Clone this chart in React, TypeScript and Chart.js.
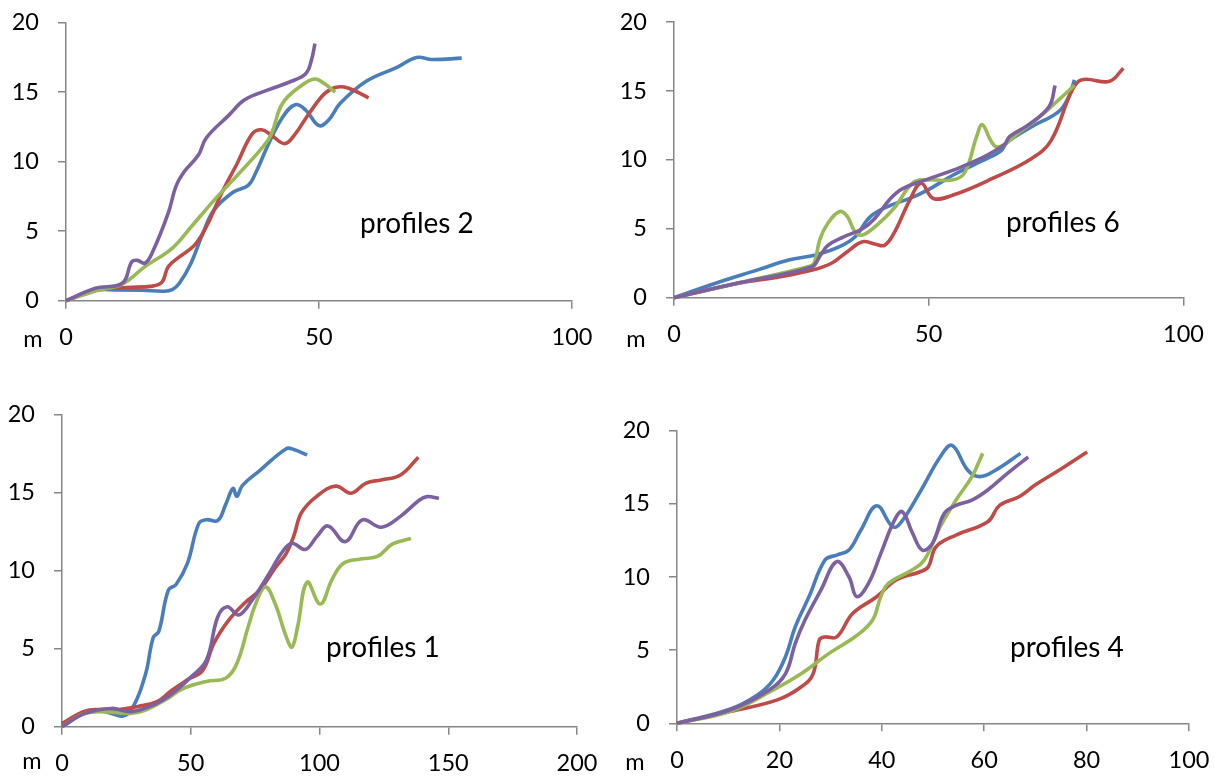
import React, { useEffect, useRef } from "react";
import { Chart, registerables } from "chart.js";

Chart.register(...registerables);

type Pt = [number, number];

// ---------- tick labels ----------
const yTicks = [0, 5, 10, 15, 20];
const xTicksP2 = [0, 50, 100];
const xTicksP6 = [0, 50, 100];
const xTicksP1 = [0, 50, 100, 150, 200];
const xTicksP4 = [0, 20, 40, 60, 80, 100];

// ---------- profiles 2 ----------
const p2Blue: Pt[] = [[0,0],[5.8,0.75],[10,0.78],[15,0.75],[19.4,0.68],[21,0.8],[22.4,1.25],[24.7,2.7],[27,4.8],[29.2,6.5],[33,7.8],[36,8.3],[37.5,9.2],[39.8,11.1],[42.8,13.2],[45.3,14.1],[47.4,13.7],[50,12.6],[51.9,13.0],[54.2,14.2],[59.4,15.8],[65.5,16.8],[69.3,17.5],[72.3,17.35],[78.2,17.45]];
const p2Red: Pt[] = [[0,0],[5.8,0.75],[11.9,0.95],[17.1,1.05],[19,1.35],[20.2,2.45],[22.4,3.15],[25.4,4.0],[27.7,5.3],[30.7,7.7],[33.8,9.85],[36.8,12.0],[38.7,12.3],[40.6,11.9],[43.2,11.3],[45.1,11.9],[48.1,13.5],[51.1,14.9],[53.4,15.35],[55.7,15.3],[59.8,14.6]];
const p2Green: Pt[] = [[0,0],[5.8,0.7],[11.1,1.2],[15.6,2.45],[20.9,3.75],[24.7,5.3],[29.2,7.2],[33.8,9.0],[39,11.1],[40.6,12.0],[42.8,14.2],[46.6,15.5],[49.2,15.95],[51.1,15.6],[53.2,15.0]];
const p2Purple: Pt[] = [[0,0],[5.8,0.9],[11.1,1.25],[13,2.8],[14.1,2.9],[15.6,2.7],[17.1,3.5],[20.2,6.3],[21.7,8.2],[23.2,9.2],[26.2,10.5],[27.7,11.7],[32.2,13.35],[35.3,14.45],[39.8,15.15],[44.3,15.75],[47.4,16.35],[48.5,17.3],[49.2,18.5]];

// ---------- profiles 6 ----------
const p6Blue: Pt[] = [[0,0],[8.6,1.1],[16.3,2.0],[22.5,2.73],[27.8,3.1],[32.5,3.7],[35.5,4.4],[38.6,5.9],[42.5,6.7],[46.3,7.2],[50.2,7.9],[54.8,8.9],[59.4,9.75],[64,10.6],[65.5,11.3],[70.2,12.4],[75.5,13.5],[77.5,14.6],[78.6,15.8]];
const p6Red: Pt[] = [[0,0],[12.5,1.04],[20.9,1.52],[27.1,2.0],[30.9,2.5],[34,3.34],[37,4.06],[39.4,3.9],[41.3,3.8],[43.2,4.7],[46.3,7.1],[48.5,8.3],[50.9,7.2],[54.8,7.45],[62.5,8.65],[70.2,10.1],[74,11.4],[77.8,14.8],[79.4,15.7],[80.9,15.85],[85.5,15.7],[88.2,16.65]];
const p6Green: Pt[] = [[0,0],[13,1.1],[26.3,2.25],[27.5,2.5],[28.6,4.2],[30.2,5.4],[32.5,6.25],[34,5.9],[35.5,4.8],[37,4.55],[40.2,5.4],[43.2,6.5],[47.1,8.4],[50.2,8.55],[54.8,8.55],[57.1,9.1],[59.4,11.7],[60.5,12.55],[62.1,11.45],[63.2,10.95],[64.8,11.1],[67.1,11.8],[71.7,13.1],[75.5,14.35],[78.6,15.4]];
const p6Purple: Pt[] = [[0,0],[13,1.1],[27.1,2.25],[28.6,3.0],[30.2,3.8],[33.2,4.4],[37,5.0],[39.4,5.75],[42.5,7.2],[44.8,7.9],[49.4,8.55],[54.8,9.25],[60.2,10.1],[64.8,11.1],[65.9,11.7],[69.4,12.5],[73.6,13.85],[74.8,15.4]];

// ---------- profiles 1 ----------
const p1Blue: Pt[] = [[0,0.1],[5.9,0.75],[13.3,1.07],[19.2,0.85],[23.6,0.68],[27.3,1.17],[32.5,3.4],[35.4,5.7],[37.6,6.1],[41.3,8.75],[44.3,9.1],[48.7,10.45],[53.1,13.0],[56.1,13.25],[60.5,13.2],[63.5,14.2],[66.4,15.25],[67.9,14.75],[70.1,15.45],[76.8,16.4],[87.1,17.8],[90,17.75],[95.2,17.4]];
const p1Red: Pt[] = [[0,0.2],[8.9,1.0],[14.8,1.1],[22.1,1.1],[29.5,1.3],[36.9,1.6],[42.8,2.35],[48.7,3.0],[54.6,3.6],[59,5.35],[64.9,6.85],[70.8,7.9],[76.8,8.75],[82.7,10.15],[87.1,11.1],[90,12.2],[93,13.7],[98.9,14.75],[106.3,15.4],[112.2,14.95],[118.1,15.6],[124,15.8],[131.3,16.1],[138.4,17.25]];
const p1Green: Pt[] = [[0,0],[8.9,0.85],[17.7,0.95],[26.6,0.85],[32.5,1.07],[39.9,1.7],[47.2,2.45],[56.1,2.9],[63.5,3.1],[67.9,4.05],[72.3,6.4],[75.3,7.9],[79,8.95],[82.7,7.9],[87.1,5.75],[89.3,5.1],[91.5,6.4],[95.2,9.25],[100.3,7.85],[104.8,9.4],[109.2,10.45],[116.6,10.75],[122.5,10.9],[128.4,11.7],[135.5,12.05]];
const p1Purple: Pt[] = [[0,0],[8.9,0.85],[19.2,1.17],[26.6,0.96],[35.4,1.39],[42.8,2.13],[50.2,3.2],[56.1,4.27],[60.5,7.04],[64.2,7.68],[68.6,7.15],[73.8,8.1],[79.7,9.6],[85.6,11.2],[89.3,11.74],[94.5,11.35],[98.9,12.16],[103.3,12.85],[110,11.85],[116.6,13.24],[124,12.77],[131.3,13.45],[138.7,14.5],[141.7,14.73],[146.4,14.62]];

// ---------- profiles 4 ----------
const p4Blue: Pt[] = [[0,0],[10.3,0.96],[15.7,1.94],[18.8,2.96],[21.2,4.56],[23.1,6.6],[25.8,8.66],[28.9,11.16],[31.2,11.5],[33.6,11.85],[35.9,13.2],[39,14.87],[42.1,13.44],[43.6,13.67],[47.5,15.83],[51.4,18.2],[53.7,19.0],[56.8,17.3],[59.1,16.86],[62.2,17.3],[67.1,18.45]];
const p4Red: Pt[] = [[0,0],[10.3,0.8],[19.6,1.6],[24.3,2.5],[26.6,3.4],[27.8,5.7],[28.9,5.9],[31.2,5.9],[34.3,7.5],[39,8.65],[42.8,9.8],[47.5,10.36],[49.1,10.7],[50.6,12.07],[54.5,12.87],[60.7,13.78],[63,14.9],[66.9,15.5],[70,16.3],[74.6,17.3],[80.1,18.55]];
const p4Green: Pt[] = [[0,0],[10.3,0.8],[18.8,2.28],[24.3,3.4],[29.7,4.78],[35.1,6.0],[38.2,7.06],[39.8,8.66],[41.3,9.57],[45.9,10.48],[48.3,11.16],[51.4,13.44],[54.5,15.26],[57.6,16.86],[59.7,18.45]];
const p4Purple: Pt[] = [[0,0],[10.3,0.91],[18,2.28],[21.2,3.4],[23.1,5.47],[25,7.06],[28.1,9.1],[31.2,11.05],[33.6,10.0],[35.1,8.66],[37.4,9.57],[39.8,11.6],[42.5,13.9],[44,14.46],[46,13.0],[47.9,11.84],[49.9,12.3],[52.2,14.35],[54.5,14.9],[57.6,15.26],[60.7,15.95],[64.6,17.1],[68.6,18.2]];

// ---------- styles ----------
const SERIES_COLORS = ["#4A7EBB", "#BE4B48", "#98B954", "#7D60A0"];
const AXIS_COLOR = "#868686";
const FONT = "Lato, 'Open Sans', sans-serif";
const TICK_SIZE = 23.5;
const LABEL_SIZE = 28;

type PanelCfg = {
  title: string;
  xTicks: number[];
  series: Pt[][];
  left: number; top: number; width: number; height: number;
  yAxisW: number; xAxisH: number; padTop: number; padRight: number;
  mPos: [number, number];
  titlePos: [number, number];
};

const panels: PanelCfg[] = [
  { title: "profiles 2", xTicks: xTicksP2, series: [p2Blue, p2Red, p2Green, p2Purple],
    left: 0, top: 0, width: 600, height: 385, yAxisW: 66, xAxisH: 84.3, padTop: 22.7, padRight: 28,
    mPos: [33, 347], titlePos: [360, 233] },
  { title: "profiles 6", xTicks: xTicksP6, series: [p6Blue, p6Red, p6Green, p6Purple],
    left: 600, top: 0, width: 614, height: 385, yAxisW: 74, xAxisH: 87.3, padTop: 22, padRight: 30.5,
    mPos: [36, 347], titlePos: [406, 232] },
  { title: "profiles 1", xTicks: xTicksP1, series: [p1Blue, p1Red, p1Green, p1Purple],
    left: 0, top: 385, width: 600, height: 391, yAxisW: 62, xAxisH: 49.3, padTop: 29.3, padRight: 23,
    mPos: [32, 384], titlePos: [326, 272] },
  { title: "profiles 4", xTicks: xTicksP4, series: [p4Blue, p4Red, p4Green, p4Purple],
    left: 600, top: 385, width: 614, height: 391, yAxisW: 77, xAxisH: 52.7, padTop: 45.7, padRight: 25,
    mPos: [35, 385], titlePos: [410, 272] },
];

const textPlugin = {
  id: "annot",
  afterDraw(chart: any, _args: any, opts: any) {
    const ctx = chart.ctx;
    ctx.save();
    ctx.fillStyle = "#000";
    ctx.textBaseline = "alphabetic";
    for (const t of opts.items || []) {
      ctx.font = `${t.size}px ${FONT}`;
      ctx.textAlign = t.align;
      ctx.fillText(t.text, t.x, t.y);
    }
    ctx.restore();
  },
};

function zeroPad(ax: any) {
  ax.paddingTop = 0;
  ax.paddingBottom = 0;
  ax.paddingLeft = 0;
  ax.paddingRight = 0;
}

function Panel({ cfg }: { cfg: PanelCfg }) {
  const ref = useRef<HTMLCanvasElement>(null);
  useEffect(() => {
    const xt = cfg.xTicks;
    const chart = new Chart(ref.current as HTMLCanvasElement, {
      type: "scatter",
      data: {
        datasets: cfg.series.map((s, i) => ({
          data: s.map(([x, y]) => ({ x, y })),
          showLine: true,
          borderColor: SERIES_COLORS[i],
          backgroundColor: SERIES_COLORS[i],
          borderWidth: 3.6,
          pointRadius: 0,
          pointHoverRadius: 0,
          tension: 0.4,
          clip: false as any,
          order: 4 - i,
          fill: false,
        })),
      },
      options: {
        responsive: false,
        maintainAspectRatio: false,
        animation: false,
        events: [],
        layout: { padding: { left: 0, top: cfg.padTop, right: cfg.padRight, bottom: 0 } },
        plugins: {
          legend: { display: false },
          tooltip: { enabled: false },
          annot: {
            items: [
              { text: "m", x: cfg.mPos[0], y: cfg.mPos[1], size: TICK_SIZE, align: "center" },
              { text: cfg.title, x: cfg.titlePos[0], y: cfg.titlePos[1], size: LABEL_SIZE, align: "left" },
            ],
          },
        } as any,
        scales: {
          x: {
            type: "linear",
            min: xt[0],
            max: xt[xt.length - 1],
            grid: { drawOnChartArea: false, drawTicks: true, tickLength: 8, color: AXIS_COLOR, lineWidth: 1.5 },
            border: { color: AXIS_COLOR, width: 1.5 },
            ticks: { stepSize: xt[1] - xt[0], font: { family: FONT, size: TICK_SIZE }, color: "#000", padding: 15, maxRotation: 0, autoSkip: false },
            afterFit: (ax: any) => { ax.height = cfg.xAxisH; zeroPad(ax); },
          },
          y: {
            type: "linear",
            min: yTicks[0],
            max: yTicks[yTicks.length - 1],
            grid: { drawOnChartArea: false, drawTicks: true, tickLength: 8, color: AXIS_COLOR, lineWidth: 1.5 },
            border: { color: AXIS_COLOR, width: 1.5 },
            ticks: { stepSize: yTicks[1] - yTicks[0], font: { family: FONT, size: TICK_SIZE }, color: "#000", padding: 19, autoSkip: false },
            afterFit: (ax: any) => { ax.width = cfg.yAxisW; zeroPad(ax); },
          },
        },
      },
      plugins: [textPlugin as any],
    });
    return () => chart.destroy();
  }, [cfg]);
  return (
    <canvas
      ref={ref}
      width={cfg.width}
      height={cfg.height}
      style={{ position: "absolute", left: cfg.left, top: cfg.top, width: cfg.width, height: cfg.height }}
    />
  );
}

export default function App() {
  return (
    <div style={{ position: "absolute", left: 0, top: 0, width: 1214, height: 776, background: "#fff", overflow: "hidden" }}>
      {panels.map((p) => (
        <Panel key={p.title} cfg={p} />
      ))}
    </div>
  );
}
